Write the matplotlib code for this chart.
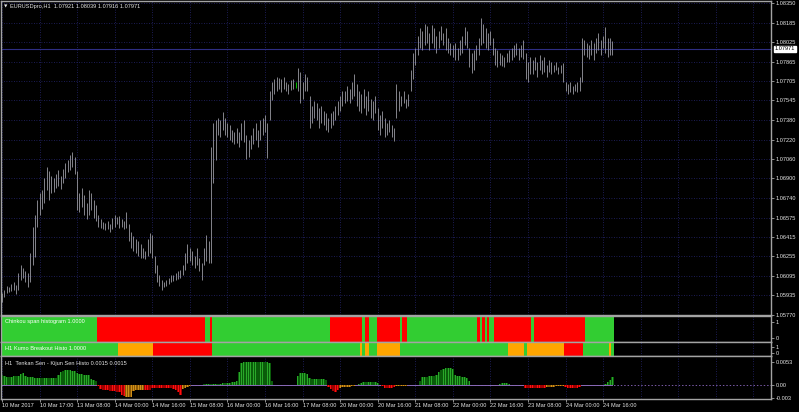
import numpy as np
import matplotlib
matplotlib.use('Agg')
import matplotlib.pyplot as plt
import matplotlib.transforms as mtransforms

plt.rcParams['font.family'] = ['Liberation Sans', 'DejaVu Sans']

# ---------------- data ----------------
symbol_title = "EURUSDpro,H1  1.07921 1.08039 1.07916 1.07971"
base_price = 1.05          # prices below are in pips above this base
last_price = 1.07971
highlight_bar = 125

high_pips = [
    95, 98, 101, 100, 103, 104, 102, 112, 118, 116, 113, 112,
    128, 150, 160, 172, 178, 180,
    190, 199, 196, 192, 190, 194, 197, 192, 198, 203, 205, 209, 212, 208,
    196, 178, 182, 176, 170, 180, 178, 172, 168,
    160, 156, 154, 153, 155, 152, 157, 160, 158, 159, 156, 155, 162,
    152, 146, 142, 140, 138, 136, 132, 130,
    140, 145, 143,
    126, 118, 110, 106, 104,
    106, 108, 110, 110, 112, 113, 114, 118,
    128, 136, 132, 130, 126, 132, 124, 120, 132, 143, 138,
    216, 236, 238,
    240, 238, 245, 240, 236,
    234, 230, 228, 232, 228, 236, 238, 226, 222,
    226, 232, 236, 230, 238, 240, 242, 236,
    262, 270,
    272, 274, 273, 272, 274, 270, 268, 271, 272, 270,
    281, 278, 270, 276, 274,
    258, 250, 254, 252, 248, 250, 246, 244, 240, 244,
    246, 250, 254, 258, 262, 262, 266, 264, 270, 276,
    268, 262, 260, 264, 258, 262, 256, 254, 258,
    248, 242, 246, 240, 236, 238, 234, 232,
    268, 262, 258, 262, 256, 260,
    280, 294, 298,
    308, 314, 312, 318, 316, 310, 317, 314, 308, 312, 316, 310, 314, 306, 302,
    300, 302, 298, 304, 308, 315, 312,
    298, 294, 296, 300, 306, 323, 318,
    314, 310, 312, 306,
    298, 296, 294, 292, 290, 294, 296,
    298, 300, 302, 298, 300, 304,
    294, 286, 290,
    288, 290, 286, 292, 288, 290, 284, 288, 286, 284, 286, 282, 284, 285,
    270, 268, 270, 266, 268, 270, 274,
    306,
    304, 302, 300, 304, 302, 306, 310, 304, 308, 315, 306, 306, 303.9,
]
low_pips = [
    88, 92, 95, 96, 97, 98, 94, 98, 106, 108, 104, 100,
    104, 118, 125, 150, 160, 165,
    170, 180, 172, 178, 179, 182, 184, 181, 186, 190, 195, 197, 199, 194,
    164, 162, 166, 160, 156, 160, 164, 157, 155,
    150, 149, 148, 147, 148, 146, 148, 150, 152, 149, 150, 148, 149,
    138, 132, 130, 128, 126, 124, 124, 123,
    126, 128, 124,
    112, 104, 101, 98, 100,
    101, 103, 104, 105, 106, 107, 108, 110,
    114, 120, 122, 118, 116, 118, 113, 106, 118, 122, 120,
    120, 186, 205,
    226, 224, 230, 226, 224,
    222, 220, 218, 219, 216, 222, 220, 206, 208,
    214, 218, 222, 216, 222, 226, 228, 207,
    238, 255,
    260, 262, 264, 261, 264, 262, 260, 263, 264, 265,
    262, 252, 256, 262, 262,
    232, 236, 240, 238, 232, 236, 234, 230, 228, 232,
    234, 238, 242, 246, 250, 252, 254, 252, 256, 258,
    250, 246, 244, 248, 242, 246, 240, 238, 244,
    230, 226, 232, 224, 226, 228, 224, 221,
    240, 246, 250, 252, 248, 250,
    262, 272, 284,
    292, 298, 296, 300, 302, 296, 302, 298, 294, 298, 304, 300, 296, 294, 292,
    290, 288, 288, 292, 294, 300, 298,
    282, 277, 280, 288, 292, 300, 302,
    298, 296, 300, 292,
    284, 282, 284, 283, 282, 286, 286,
    288, 290, 292, 288, 290, 289,
    272, 270, 276,
    276, 280, 274, 280, 276, 278, 274, 278, 276, 278, 280, 276, 277, 270,
    262, 260, 261, 260, 262, 261, 262,
    270,
    292, 290, 289, 292, 288, 294, 296, 292, 298, 294, 290, 292, 291.6,
]

price_ticks = [1.08350, 1.08185, 1.08025, 1.07865, 1.07705, 1.07545, 1.07380,
               1.07220, 1.07060, 1.06900, 1.06740, 1.06575, 1.06415, 1.06255,
               1.06095, 1.05935, 1.05770]

time_labels = ["10 Mar 2017", "10 Mar 17:00", "13 Mar 08:00", "14 Mar 00:00",
               "14 Mar 16:00", "15 Mar 08:00", "16 Mar 00:00", "16 Mar 16:00",
               "17 Mar 08:00", "20 Mar 00:00", "20 Mar 16:00", "21 Mar 08:00",
               "22 Mar 00:00", "22 Mar 16:00", "23 Mar 08:00", "24 Mar 00:00",
               "24 Mar 16:00"]
bars_per_label = 16

# Chinkou span histogram: runs of (state, number of bars)
chinkou_runs = [('G', 41), ('R', 46), ('G', 2), ('R', 1), ('G', 50), ('R', 14),
                ('G', 1), ('R', 2), ('G', 3), ('R', 10), ('G', 1), ('R', 2),
                ('G', 30), ('R', 1), ('G', 1), ('R', 1), ('G', 1), ('R', 1),
                ('G', 2), ('R', 16), ('G', 1), ('R', 22), ('G', 12)]
# Kumo breakout histogram
kumo_runs = [('G', 50), ('O', 15), ('R', 25), ('G', 63), ('O', 1), ('G', 1),
             ('O', 2), ('G', 3), ('O', 10), ('G', 46), ('O', 7), ('G', 1),
             ('O', 16), ('R', 8), ('G', 11), ('O', 1), ('G', 1)]

# Tenkan - Kijun histogram values (x 1e-4)
tk_hist = [
    23, 21, 19, 19, 19, 20, 21, 21, 26, 27, 21, 19, 19, 19, 15,
    15, 15, 15, 15, 15, 16, 15, 15, 16, 22,
    30, 33, 34, 34, 34, 33, 33, 28, 26, 25, 24, 23, 22, 14, 12, 10,
    -2, -10, -11, -12, -12, -13, -13, -14, -15, -16,
    -22, -26, -28, -28, -27,
    -14, -11, -11, -11, -11, -11, -11, -11,
    -8, -8, -8, -7, -7, -7, -7, -7, -8, -9, -12, -17, -23,
    -10, -6, -4, -2, -1, 0, 0,
    1, 1, 2, 2, 2, 2, 2, 3, 3, 3, 4, 4, 4, 5, 6, 8, 10,
    30, 50, 54, 54, 54, 54, 54, 54, 54, 54, 52, 52, 52, 50, 10,
    0, 0, 0, 0, 0, 0, 0, 0, 0, 0,
    20, 27, 27, 27, 26,
    15, 14, 14, 14, 14, 14, 13, 12,
    -5, -10, -14, -15, -12,
    -6, -5, -5, -4, -4, -3, -3, 0,
    3, 5, 7, 8, 8, 8, 7, 6, 4, 0,
    -3, -6, -7, -7, -6, -5, -3, -3, -3, -3, -2,
    0, 0, 0, 0, 0,
    10, 18, 19, 19, 20, 20, 21, 22, 30, 34, 37, 39, 40, 40, 38,
    22, 21, 20, 19, 18, 15, 10,
    0, 0, 0, 0, 0, 0, 0, 0, 0, 0, 0, 0,
    3, 5, 5, 5, 3,
    0, 0, 0, 0, 0, 0,
    -7, -8, -8, -7, -7, -7, -6, -6, -6,
    -4, -4, -4, -4, -3, -2, -2, -2,
    -5, -6, -6, -6, -6, -6, -5,
    0, 0, 0, 0, 0, 0, 0, 0, 0,
    1, 2, 6, 12, 19,
]
tk_orange_ranges = [(53, 60), (77, 81), (144, 150), (168, 172), (232, 239)]
tk_ticks = [0.0053, 0.0, -0.003]
tk_tick_labels = ['0.0053', '0.00', '-0.003']

# ---------------- layout ----------------
W, H = 799, 412
fig = plt.figure(figsize=(W / 100, H / 100), dpi=100, facecolor='black')


def rect(x0, y0, x1, y1):
    return [x0 / W, 1 - y1 / H, (x1 - x0) / W, (y1 - y0) / H]


n = len(high_pips)
idx = np.arange(n)
highs = base_price + np.array(high_pips) / 1e4
lows = base_price + np.array(low_pips) / 1e4

step = 2.348      # pixels per bar
x_first = 2.0     # pixel of first bar
xlim = ((1 - x_first) / step, (771 - x_first) / step)

TXT = '#e6e6e6'
SPINE = '#a4a4a4'
GRID = '#262670'
FS = 4.1
gridx = np.arange(0, xlim[1], bars_per_label)


def style(ax):
    ax.set_facecolor('black')
    for s in ax.spines.values():
        s.set_color(SPINE)
        s.set_linewidth(1.0)
    ax.set_xlim(*xlim)
    ax.yaxis.tick_right()
    ax.tick_params(axis='y', color=SPINE, labelcolor=TXT, labelsize=FS,
                   length=2, width=0.6, pad=1.5)
    ax.tick_params(axis='x', bottom=False, labelbottom=False)
    for gx in gridx:
        ax.axvline(gx, color=GRID, lw=0.6, ls=(0, (1, 2)), zorder=0)


# main price panel
ax = fig.add_axes(rect(1, 1, 771, 315))
style(ax)
ppx = (price_ticks[0] - price_ticks[-1]) / (315 - 3)
ax.set_ylim(price_ticks[-1], price_ticks[0] + 2 * ppx)
ax.set_yticks(price_ticks)
ax.set_yticklabels([f'{p:.5f}' for p in price_ticks])
for p in price_ticks:
    ax.axhline(p, color=GRID, lw=0.6, ls=(0, (1, 2)), zorder=0)
ax.axhline(last_price, color='#2e2e84', lw=0.8, zorder=1)
bar_colors = ['#00d000' if i == highlight_bar else '#8e8e96' for i in idx]
ax.vlines(idx, lows, highs, colors=bar_colors, lw=0.65, zorder=2)
tr = mtransforms.blended_transform_factory(ax.transAxes, ax.transData)
ax.text(1 + 3.5 / 770, last_price, f'{last_price:.5f}', transform=tr,
        ha='left', va='center', fontsize=FS, color='black',
        bbox=dict(boxstyle='square,pad=0.12', fc='white', ec='white'))

fig.text(4 / W, 1 - 6.5 / H, '\u25bc', fontsize=3.2, color=TXT,
         ha='left', va='center', family=['DejaVu Sans'])
fig.text(10 / W, 1 - 6.5 / H, symbol_title, fontsize=FS, color=TXT,
         ha='left', va='center')

colmap = {'G': '#32cd32', 'R': '#ff0000', 'O': '#ffa500'}


def expand(runs):
    out = []
    for c, k in runs:
        out += [colmap[c]] * k
    return out


# Chinkou panel
axc = fig.add_axes(rect(1, 316, 771, 342))
style(axc)
ppu = 338 - 322
lo, hi = -(342 - 338) / ppu, 1 + (322 - 316) / ppu
axc.set_ylim(lo, hi)
ccols = expand(chinkou_runs)
axc.bar(np.arange(len(ccols)), hi - lo, bottom=lo, width=1.0, color=ccols,
        linewidth=0, zorder=2)
axc.set_yticks([1, 0])
axc.set_yticklabels(['1', '0'])
fig.text(5 / W, 1 - 322 / H, 'Chinkou span histogram 1.0000', fontsize=FS,
         color='white', ha='left', va='center')

# Kumo panel
axk = fig.add_axes(rect(1, 342, 771, 356))
style(axk)
ppu = 352.7 - 347.3
lo, hi = -(356 - 352.7) / ppu, 1 + (347.3 - 342) / ppu
axk.set_ylim(lo, hi)
kcols = expand(kumo_runs)
axk.bar(np.arange(len(kcols)), hi - lo, bottom=lo, width=1.0, color=kcols,
        linewidth=0, zorder=2)
axk.set_yticks([1, 0])
axk.set_yticklabels(['1', '0'])
fig.text(5 / W, 1 - 348.5 / H, 'H1 Kumo Breakout Histo 1.0000', fontsize=FS,
         color='white', ha='left', va='center')

# Tenkan - Kijun panel
axt = fig.add_axes(rect(1, 356, 771, 399))
style(axt)
k = (385 - 362) / 0.0053
axt.set_ylim(-(399 - 385) / k, (385 - 356) / k)
vals = np.array(tk_hist) / 1e4
base_c, stripe_c = [], []
for i, v in enumerate(vals):
    orange = any(a <= i <= b for a, b in tk_orange_ranges)
    if v >= 0:
        base_c.append('#0a5c0a'); stripe_c.append('#2aa82a')
    elif orange:
        base_c.append('#8a5806'); stripe_c.append('#d09018')
    else:
        base_c.append('#a00000'); stripe_c.append('#ff1010')
axt.axhline(0, color='#7a5aa8', lw=0.7, ls=(0, (1.5, 2)), zorder=1)
axt.plot([0, n - 1], [0, 0], color='#8a6ab8', lw=0.7, zorder=1)
ti = np.arange(len(vals))
axt.bar(ti, vals, width=1.0, color=base_c, linewidth=0, zorder=2)
axt.bar(ti, vals, width=0.35, color=stripe_c, linewidth=0, zorder=3)
axt.set_yticks(tk_ticks)
axt.set_yticklabels(tk_tick_labels)
fig.text(5 / W, 1 - 363 / H, 'H1  Tenkan Sen - Kijun Sen Histo 0.0015 0.0015',
         fontsize=FS, color=TXT, ha='left', va='center')

# time axis
tpos = np.arange(len(time_labels)) * bars_per_label
axt.tick_params(axis='x', bottom=True, labelbottom=True, color=SPINE,
                labelcolor=TXT, labelsize=FS, length=2, width=0.6, pad=1.2)
axt.set_xticks(tpos)
axt.set_xticklabels(time_labels, ha='left')

fig.savefig('out.png', dpi=100, facecolor='black')
